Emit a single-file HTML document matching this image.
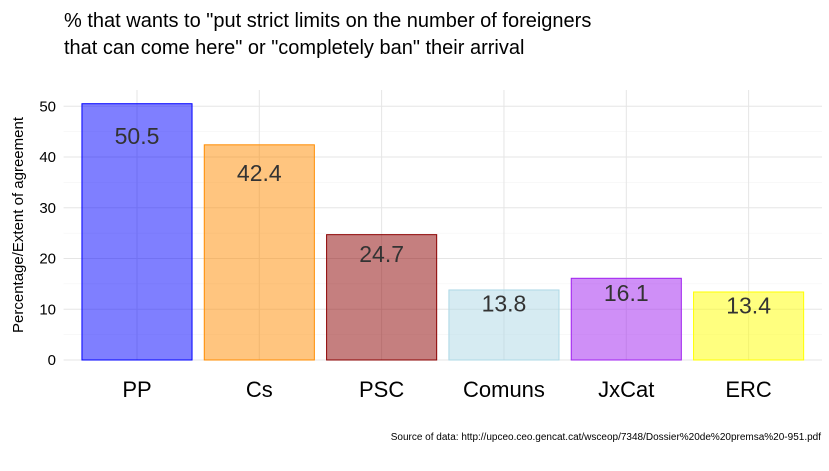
<!DOCTYPE html>
<html><head><meta charset="utf-8"><style>
body{margin:0;background:#fff;}
svg text{font-family:"Liberation Sans",sans-serif;}
</style></head><body>
<svg id="chart" width="829" height="466" xmlns="http://www.w3.org/2000/svg">
<rect width="829" height="466" fill="#fff"/>
<text x="64" y="27" font-size="20" fill="#000">% that wants to "put strict limits on the number of foreigners</text>
<text x="64" y="54" font-size="20" fill="#000">that can come here" or "completely ban" their arrival</text>
<g id="grid"></g>
<g id="bars"></g>
<g id="labels"></g>
<text transform="translate(23,225) rotate(-90)" text-anchor="middle" font-size="15" fill="#000">Percentage/Extent of agreement</text>
<text x="821" y="440" text-anchor="end" font-size="10" fill="#000">Source of data: http://upceo.ceo.gencat.cat/wsceop/7348/Dossier%20de%20premsa%20-951.pdf</text>
</svg>
<script>
const categories=["PP","Cs","PSC","Comuns","JxCat","ERC"];
const values=[50.5,42.4,24.7,13.8,16.1,13.4];
const valueLabels=["50.5","42.4","24.7","13.8","16.1","13.4"];
const colors=["#0000ff","#ff8c00","#8b0000","#add8e6","#a020f0","#ffff00"];
const yTicks=[0,10,20,30,40,50];
const ns="http://www.w3.org/2000/svg";
const left=63.6,right=822,y0=360,pxPerUnit=5.075;
const band=(right-left)/(categories.length-1+1.2);
function x(i){return left+band*(0.6+i);}
function y(v){return y0-v*pxPerUnit;}
function mk(t,a,p){const e=document.createElementNS(ns,t);for(const k in a)e.setAttribute(k,a[k]);p.appendChild(e);return e;}
const grid=document.getElementById('grid'),bars=document.getElementById('bars'),labels=document.getElementById('labels');
yTicks.forEach((t,k)=>{
  const l=mk('line',{x1:left,x2:right,y1:y(t),y2:y(t),stroke:'#e5e5e5','stroke-width':1},grid);
  
  
  if(k<yTicks.length-1){
    const m=mk('line',{x1:left,x2:right,y1:y(t+5),y2:y(t+5),stroke:'#f2f2f2','stroke-width':0.6},grid);
    
    
  }
  const tx=mk('text',{x:56,y:y(t)+5,'text-anchor':'end','font-size':15,fill:'#000'},grid);
  tx.textContent=t;
  
  
});
categories.forEach((c,i)=>{
  const g=mk('line',{x1:x(i),x2:x(i),y1:90,y2:360,stroke:'#e5e5e5','stroke-width':1},grid);
  
  
});
categories.forEach((c,i)=>{
  const w=band*0.9;
  const r=mk('rect',{x:x(i)-w/2,y:y(values[i]),width:w,height:values[i]*pxPerUnit,fill:colors[i],'fill-opacity':0.5,stroke:colors[i],'stroke-width':1},bars);
  
  
  const t=mk('text',{x:x(i),y:y(values[i]*0.9-1.3)+8,'text-anchor':'middle','font-size':23,fill:'#333'},labels);
  t.textContent=valueLabels[i];
  
  
  const cl=mk('text',{x:x(i),y:397,'text-anchor':'middle','font-size':22,fill:'#000'},labels);
  cl.textContent=c;
  
  
});
</script>
</body></html>
